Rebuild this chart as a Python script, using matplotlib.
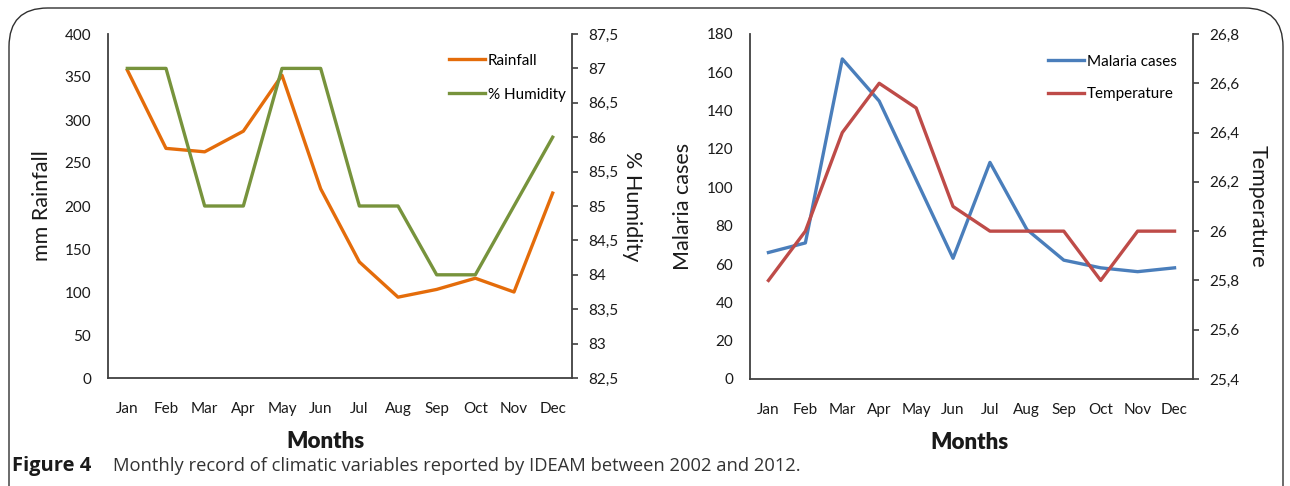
#! /usr/bin/env python3
"""Monthly climatic variables, IDEAM 2002-2012 (two panels, twin y axes)"""

import matplotlib
matplotlib.use("Agg")
from matplotlib import pyplot as plt
from matplotlib.patches import FancyBboxPatch
from matplotlib.ticker import FuncFormatter, MultipleLocator

months = ["Jan", "Feb", "Mar", "Apr", "May", "Jun",
          "Jul", "Aug", "Sep", "Oct", "Nov", "Dec"]

rainfall = [358, 267, 263, 287, 352, 220, 135, 94, 103, 116, 100, 215]
humidity = [87, 87, 85, 85, 87, 87, 85, 85, 84, 84, 85, 86]

malaria = [66, 71, 167, 145, 104, 63, 113, 78, 62, 58, 56, 58]
temperature = [25.8, 26.0, 26.4, 26.6, 26.5, 26.1, 26.0, 26.0, 26.0, 25.8, 26.0, 26.0]

ORANGE = "#E46C0A"
GREEN = "#77933C"
BLUE = "#4A7EBB"
RED = "#BE4B48"
TXT = "#1a1a1a"

plt.rcParams["font.family"] = ["Lato", "DejaVu Sans"]

W, H = 1290, 486
fig = plt.figure(figsize=(W / 100, H / 100), dpi=100)


def px(x0, y0, x1, y1):
    """pixel box -> figure rect"""
    return [x0 / W, 1 - y1 / H, (x1 - x0) / W, (y1 - y0) / H]


def comma(v, _pos):
    s = "{:g}".format(round(v, 2))
    return s.replace(".", ",")


def style_pair(ax, ax2, label_x):
    for a in (ax, ax2):
        a.spines["top"].set_visible(False)
        for s in a.spines.values():
            s.set_color("#404040")
            s.set_linewidth(1.3)
    ax.spines["right"].set_visible(False)
    ax2.spines["left"].set_visible(False)
    ax2.spines["bottom"].set_visible(False)
    ax.tick_params(axis="y", length=0, pad=12, labelsize=11, colors=TXT)
    ax.tick_params(axis="x", length=0, pad=17, labelsize=11, colors=TXT)
    ax2.tick_params(axis="y", length=4, width=1.2, color="#404040",
                    pad=8, labelsize=11, labelcolor=TXT)
    ax.set_xlim(-0.5, 11.5)
    ax.set_xticks(range(12))
    ax.set_xticklabels(months)
    ax.set_xlabel("Months", fontsize=16, fontweight="heavy", color=TXT)
    ax.xaxis.set_label_coords(label_x, -0.155)


# left panel: rainfall / humidity
ax1 = fig.add_axes(px(108, 34, 572, 378))
ax1b = ax1.twinx()
l1, = ax1.plot(range(12), rainfall, color=ORANGE, lw=2.4, label="Rainfall")
l2, = ax1b.plot(range(12), humidity, color=GREEN, lw=2.4, label="% Humidity")
ax1.set_ylim(0, 400)
ax1.yaxis.set_major_locator(MultipleLocator(50))
ax1b.set_ylim(82.5, 87.5)
ax1b.yaxis.set_major_locator(MultipleLocator(0.5))
ax1b.yaxis.set_major_formatter(FuncFormatter(comma))
style_pair(ax1, ax1b, (325 - 108) / (572 - 108))
ax1.set_ylabel("mm Rainfall", fontsize=15.5, color=TXT, labelpad=9)
ax1b.set_ylabel("% Humidity", fontsize=15.5, color=TXT, rotation=270, labelpad=17)
ax1b.legend(handles=[l1, l2], loc="upper left", bbox_to_anchor=(441 / W, 1 - 46 / H),
            bbox_transform=fig.transFigure, frameon=False, fontsize=11,
            handlelength=2.4, handletextpad=0.15, labelspacing=1.3, borderpad=0)

# right panel: malaria / temperature
ax2 = fig.add_axes(px(750, 34, 1193, 379))
ax2b = ax2.twinx()
l3, = ax2.plot(range(12), malaria, color=BLUE, lw=2.4, label="Malaria cases")
l4, = ax2b.plot(range(12), temperature, color=RED, lw=2.4, label="Temperature")
ax2.set_ylim(0, 180)
ax2.yaxis.set_major_locator(MultipleLocator(20))
ax2b.set_ylim(25.4, 26.8)
ax2b.yaxis.set_major_locator(MultipleLocator(0.2))
ax2b.yaxis.set_major_formatter(FuncFormatter(comma))
style_pair(ax2, ax2b, (969 - 750) / (1193 - 750))
ax2.set_ylabel("Malaria cases", fontsize=15.5, color=TXT, labelpad=10)
ax2b.set_ylabel("Temperature", fontsize=15.5, color=TXT, rotation=270, labelpad=20)
ax2b.legend(handles=[l3, l4], loc="upper left", bbox_to_anchor=(1040 / W, 1 - 47 / H),
            bbox_transform=fig.transFigure, frameon=False, fontsize=11,
            handlelength=2.4, handletextpad=0.15, labelspacing=1.2, borderpad=0)

# rounded frame and caption
frame = FancyBboxPatch((9 / W, -0.1), (1283 - 9) / W, 1 - 8 / H + 0.1,
                       boxstyle="round,pad=0,rounding_size=0.03",
                       transform=fig.transFigure, fill=False,
                       edgecolor="#303030", lw=1.0, mutation_aspect=W / H)
fig.patches.append(frame)

fig.text(12 / W, 1 - 466 / H, "Figure 4", fontsize=14.5, fontweight="bold",
         family=["Open Sans", "DejaVu Sans"], va="center", color=TXT)
fig.text(113 / W, 1 - 466 / H,
         "Monthly record of climatic variables reported by IDEAM between 2002 and 2012.",
         fontsize=13.2, family=["Open Sans", "DejaVu Sans"], va="center", color="#333333")

fig.savefig("out.png", dpi=100)
